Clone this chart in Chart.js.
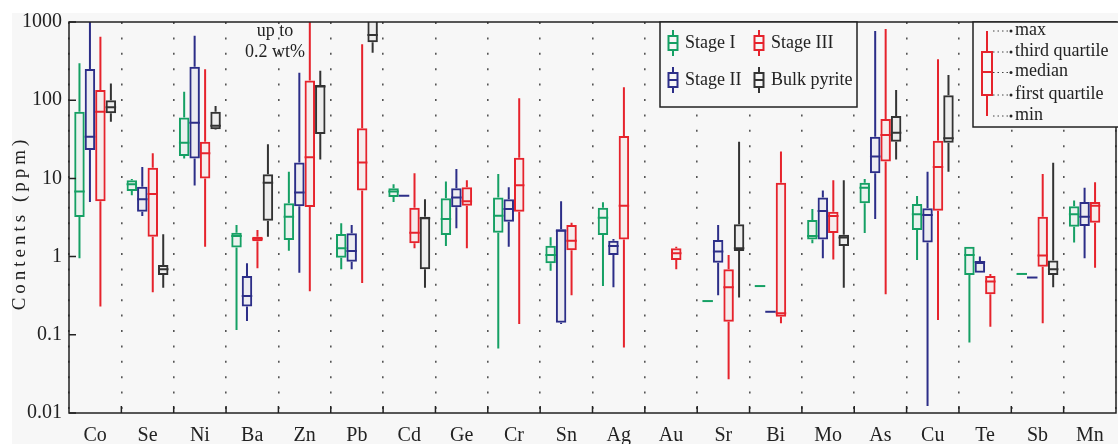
<!DOCTYPE html>
<html>
<head>
<meta charset="utf-8">
<script src="https://cdn.jsdelivr.net/npm/chart.js@4.4.1/dist/chart.umd.min.js"></script>
<style>
html, body { margin: 0; padding: 0; background: #fff; }
#chart { display: block; }
</style>
</head>
<body>
<canvas id="chart" width="1118" height="444"></canvas>
<script>
const elements = ['Co', 'Se', 'Ni', 'Ba', 'Zn', 'Pb', 'Cd', 'Ge', 'Cr', 'Sn',
                  'Ag', 'Au', 'Sr', 'Bi', 'Mo', 'As', 'Cu', 'Te', 'Sb', 'Mn'];
const yTickValues = [0.01, 0.1, 1, 10, 100, 1000];
const yTickLabels = ['0.01', '0.1', '1', '10', '100', '1000'];
const seriesNames = ['Stage I', 'Stage II', 'Stage III', 'Bulk pyrite'];

// each entry: [min, first quartile, median, third quartile, max] in ppm
const stageI = [
    [0.95, 3.2, 6.8, 71, 297], [6.1, 6.9, 8.4, 9.5, 9.8], [18, 19.3, 28.6, 60, 128],
    [0.115, 1.31, 1.83, 2.02, 2.54], [1.19, 1.63, 3.24, 4.8, 12.2], [0.69, 0.97, 1.28, 1.95, 2.66],
    [5.0, 5.8, 6.8, 7.5, 8.4], [1.37, 1.89, 3.03, 5.56, 9.1], [0.067, 2.02, 3.33, 5.7, 11.4],
    [0.66, 0.82, 1.05, 1.38, 1.77], [0.42, 1.89, 3.15, 4.2, 4.95], null,
    [0.27, 0.27, 0.27, 0.27, 0.27], [0.42, 0.42, 0.42, 0.42, 0.42], [1.48, 1.66, 1.83, 2.94, 4.06],
    [2.0, 4.8, 7.6, 8.8, 9.8], [0.905, 2.19, 3.47, 4.7, 5.95], [0.08, 0.58, 1.05, 1.34, 1.34],
    [0.6, 0.6, 0.6, 0.6, 0.6], [1.52, 2.41, 3.47, 4.4, 5.2]
];
const stageII = [
    [5.0, 23, 34, 250, 1100], [3.3, 3.75, 5.4, 7.8, 14], [8.1, 18, 51.5, 268, 668],
    [0.15, 0.23, 0.313, 0.565, 0.82], [0.62, 4.4, 6.6, 16, 225], [0.69, 0.86, 1.18, 1.99, 2.54],
    [6.0, 6.0, 6.0, 6.0, 6.0], [2.3, 4.27, 5.7, 7.5, 13.2], [1.34, 2.8, 4.06, 5.4, 7.7],
    [0.137, 0.143, 2.14, 2.23, 5.1], [0.405, 1.05, 1.37, 1.6, 1.68], null,
    [0.32, 0.836, 1.16, 1.63, 2.54], [0.197, 0.197, 0.197, 0.197, 0.197], [0.95, 1.66, 3.83, 5.7, 7.0],
    [3.03, 11.6, 19, 34, 767], [0.0123, 1.52, 3.4, 4.15, 12.2], [0.62, 0.62, 0.85, 0.85, 1.0],
    [0.54, 0.54, 0.54, 0.54, 0.54], [0.95, 2.46, 3.24, 5.0, 7.6]
];
const stageIII = [
    [0.23, 5.1, 71, 135, 650], [0.35, 1.8, 6.3, 13.7, 21], [1.34, 10, 21, 29.5, 248],
    [0.71, 1.57, 1.69, 1.8, 2.19], [0.36, 4.3, 18.6, 178, 1100], [0.46, 7.0, 16, 43.7, 519],
    [1.28, 1.48, 2.02, 4.2, 11.6], [1.28, 4.48, 5.1, 7.7, 9.5], [0.137, 3.75, 8.2, 18.4, 106],
    [0.32, 1.21, 1.6, 2.54, 2.7], [0.069, 1.66, 4.48, 34.8, 146], [0.69, 0.905, 1.1, 1.28, 1.34],
    [0.027, 0.147, 0.405, 0.69, 1.05], [0.14, 0.17, 0.188, 8.8, 22], [0.92, 2.0, 3.3, 3.75, 9.5],
    [0.33, 16.4, 35.9, 57.5, 814], [0.155, 3.86, 14, 30.3, 333], [0.127, 0.33, 0.48, 0.565, 0.6],
    [0.14, 0.74, 1.03, 3.24, 11.4], [0.72, 2.7, 4.48, 5.0, 8.9]
];
const bulkPyrite = [
    [53, 68, 81, 100, 164], [0.40, 0.58, 0.69, 0.78, 1.93], [42, 42.5, 47, 71, 84],
    [1.8, 2.88, 8.8, 11.3, 27.3], [17.5, 37, 150, 156, 238], [405, 550, 682, 1500, 2000],
    [0.40, 0.69, 3.1, 3.24, 5.4], null, null,
    null, null, null,
    [0.30, 1.18, 1.28, 2.59, 29.5], null, [0.40, 1.37, 1.75, 1.9, 9.5],
    [17.5, 29.5, 38.4, 62.8, 135], [12.2, 28.6, 32.6, 116, 210], null,
    [0.405, 0.58, 0.69, 0.89, 15.9], null
];

const allStats = [stageI, stageII, stageIII, bulkPyrite];
const colors = ['#15a064', '#2c2e88', '#e6232c', '#333333'];
const fills = ['rgba(21,160,100,0.05)', 'rgba(44,46,136,0.05)', 'rgba(230,35,44,0.05)', 'rgba(50,50,50,0.05)'];
const keyLabels = ['max', 'third quartile', 'median', 'first quartile', 'min'];

const serif = '"Liberation Serif", "Times New Roman", serif';
Chart.defaults.font.family = serif;
Chart.defaults.color = '#222';

function miniBox(ctx, x, yTop, yQ3, yMed, yQ1, yBot, half, color) {
    ctx.strokeStyle = color;
    ctx.lineWidth = 2;
    ctx.beginPath();
    ctx.moveTo(x, yTop); ctx.lineTo(x, yQ3);
    ctx.moveTo(x, yQ1); ctx.lineTo(x, yBot);
    ctx.moveTo(x - half, yMed); ctx.lineTo(x + half, yMed);
    ctx.stroke();
    ctx.strokeRect(x - half, yQ3, half * 2, yQ1 - yQ3);
}

const boxPlotPlugin = {
    id: 'boxPlot',
    beforeDraw(chart) {
        const ctx = chart.ctx;
        ctx.save();
        ctx.fillStyle = '#fff';
        ctx.fillRect(0, 0, chart.width, chart.height);
        ctx.fillStyle = '#f7f7f7';
        ctx.fillRect(12, 13, chart.width - 12, chart.height - 13);
        ctx.restore();
    },
    afterDatasetsDraw(chart) {
        const ctx = chart.ctx, y = chart.scales.y, a = chart.chartArea;
        ctx.save();
        ctx.beginPath();
        ctx.rect(a.left, a.top, a.right - a.left, a.bottom - a.top);
        ctx.clip();
        ctx.lineWidth = 2;
        allStats.forEach(function (stats, d) {
            const meta = chart.getDatasetMeta(d);
            ctx.strokeStyle = colors[d];
            stats.forEach(function (s, i) {
                if (!s) return;
                const el = meta.data[i];
                const half = el.width / 2;
                const p = s.map(function (v) { return y.getPixelForValue(v); });
                ctx.beginPath();
                if (s[4] > s[3]) { ctx.moveTo(el.x, p[3]); ctx.lineTo(el.x, p[4]); }
                if (s[0] < s[1]) { ctx.moveTo(el.x, p[1]); ctx.lineTo(el.x, p[0]); }
                ctx.moveTo(el.x - half, p[2]); ctx.lineTo(el.x + half, p[2]);
                ctx.stroke();
            });
        });
        ctx.restore();
    },
    afterDraw(chart) {
        const ctx = chart.ctx, a = chart.chartArea, x = chart.scales.x, y = chart.scales.y;
        ctx.save();
        // frame and inner tick marks
        ctx.strokeStyle = '#222';
        ctx.lineWidth = 1.5;
        ctx.strokeRect(a.left, a.top, a.right - a.left, a.bottom - a.top);
        ctx.beginPath();
        for (let i = 0; i < elements.length - 1; i++) {
            const bx = (x.getPixelForTick(i) + x.getPixelForTick(i + 1)) / 2;
            ctx.moveTo(bx, a.bottom); ctx.lineTo(bx, a.bottom - 7);
        }
        yTickValues.forEach(function (v) {
            const py = y.getPixelForValue(v);
            ctx.moveTo(a.left, py); ctx.lineTo(a.left + 7, py);
        });
        ctx.stroke();

        // y axis title
        ctx.save();
        ctx.translate(20, 223);
        ctx.rotate(-Math.PI / 2);
        ctx.font = '19px ' + serif;
        ctx.letterSpacing = '4px';
        ctx.fillStyle = '#222';
        ctx.textAlign = 'center';
        ctx.textBaseline = 'middle';
        ctx.fillText('Contents (ppm)', 0, 0);
        ctx.restore();

        // note for bulk pyrite Pb
        ctx.font = '18px ' + serif;
        ctx.fillStyle = '#222';
        ctx.textAlign = 'center';
        ctx.textBaseline = 'middle';
        ctx.fillText('up to', 275, 31);
        ctx.fillText('0.2 wt%', 275, 52);

        // series legend
        ctx.fillStyle = '#f7f7f7';
        ctx.fillRect(660, a.top, 197, 85);
        ctx.strokeStyle = '#222';
        ctx.lineWidth = 1.5;
        ctx.strokeRect(660, a.top, 197, 85);
        const lx = [673, 759, 673, 759], ly = [43, 43, 80, 80];
        const order = [0, 2, 1, 3];
        order.forEach(function (d, k) {
            const cx = lx[k], cy = ly[k];
            miniBox(ctx, cx, cy - 13, cy - 7, cy, cy + 7, cy + 13, 4.5, colors[d]);
            ctx.fillStyle = '#222';
            ctx.textAlign = 'left';
            ctx.fillText(seriesNames[d], cx + 12, cy);
        });

        // key legend
        ctx.fillStyle = '#f7f7f7';
        ctx.fillRect(973, a.top, 160, 105);
        ctx.strokeStyle = '#222';
        ctx.lineWidth = 1.5;
        ctx.strokeRect(973, a.top, 160, 105);
        miniBox(ctx, 987, 31, 52, 72, 95, 116, 5, colors[2]);
        const ky = [31, 52, 72.5, 95, 116];
        ky.forEach(function (py, k) {
            ctx.strokeStyle = '#444';
            ctx.lineWidth = 1;
            ctx.setLineDash([1.5, 3]);
            ctx.beginPath();
            ctx.moveTo(993, py); ctx.lineTo(1008, py);
            ctx.stroke();
            ctx.setLineDash([]);
            ctx.fillStyle = '#222';
            ctx.beginPath();
            ctx.arc(1011, py, 1.5, 0, Math.PI * 2);
            ctx.fill();
            ctx.textAlign = 'left';
            ctx.fillText(keyLabels[k], 1015, py - 1);
        });
        ctx.restore();
    }
};

new Chart(document.getElementById('chart'), {
    type: 'bar',
    data: {
        labels: elements,
        datasets: allStats.map(function (stats, d) {
            return {
                label: seriesNames[d],
                data: stats.map(function (s) { return s ? [s[1], s[3]] : null; }),
                backgroundColor: fills[d],
                borderColor: colors[d],
                borderWidth: 2,
                borderSkipped: false,
                barPercentage: 1,
                categoryPercentage: 0.8,
                clip: 0
            };
        })
    },
    options: {
        responsive: false,
        animation: false,
        layout: { padding: { top: 22, right: 2, left: 0, bottom: 0 } },
        plugins: {
            legend: { display: false },
            tooltip: { enabled: false }
        },
        scales: {
            x: {
                offset: true,
                grid: { display: true, offset: true, color: '#555', lineWidth: 1.6, drawTicks: false },
                border: { display: false, dash: [2, 13.4] },
                ticks: { font: { size: 20 }, color: '#222', padding: 11 },
                afterFit: function (s) { s.height = 31; }
            },
            y: {
                type: 'logarithmic',
                min: 0.01,
                max: 1000,
                afterBuildTicks: function (s) {
                    s.ticks = yTickValues.map(function (v) { return { value: v }; });
                },
                ticks: {
                    font: { size: 20 },
                    color: '#222',
                    padding: 7,
                    callback: function (v) { return yTickLabels[yTickValues.indexOf(v)]; }
                },
                grid: { display: false, drawTicks: false },
                border: { display: false },
                afterFit: function (s) { s.width = 69; }
            }
        }
    },
    plugins: [boxPlotPlugin]
});
</script>
</body>
</html>
